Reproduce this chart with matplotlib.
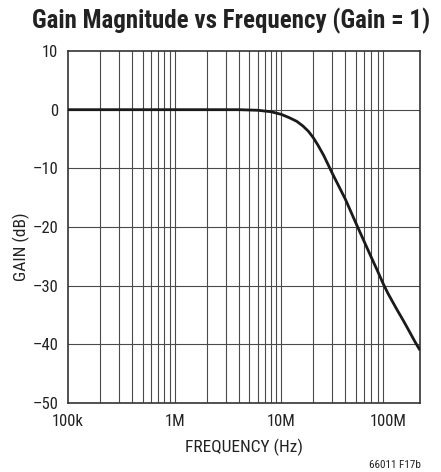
import matplotlib
matplotlib.use("Agg")
import matplotlib.pyplot as plt

# Data
freq_hz = [1e5, 1e6, 4e6, 6e6, 8e6, 1e7, 1.2e7, 1.4e7, 1.6e7, 1.8e7, 2e7, 2.2e7,
           2.5e7, 3e7, 4e7, 5e7, 6e7, 7e7, 8e7, 9e7, 1e8, 1.2e8, 1.4e8, 1.6e8,
           1.8e8, 2e8]
gain_db = [0, 0, 0, -0.1, -0.35, -0.8, -1.4, -2.0, -2.8, -3.7, -4.8, -6.0,
           -7.8, -10.8, -15.3, -19.3, -22.5, -25.2, -27.5, -29.6, -31.3, -33.9,
           -36.0, -37.9, -39.6, -41.0]
xtick_vals = [1e5, 1e6, 1e7, 1e8]
xtick_labels = ["100k", "1M", "10M", "100M"]
ytick_vals = [10, 0, -10, -20, -30, -40, -50]
ytick_labels = ["10", "0", "\u201310", "\u201320", "\u201330", "\u201340", "\u201350"]
grid_freqs = [m * 10 ** e for e in (5, 6, 7) for m in range(1, 10)][1:]
grid_gains = [0, -10, -20, -30, -40]

plt.rcParams['font.family'] = ['Roboto Condensed', 'DejaVu Sans']

fig = plt.figure(figsize=(4.41, 4.72), dpi=100)
ax = fig.add_axes([68/441, 1 - 403/472, (420-68)/441, (403-51)/472])
ax.set_xscale('log')
ax.set_xlim(1e5, 2e8)
ax.set_ylim(-50, 10)

for f in grid_freqs:
    ax.axvline(f, color='#4a4a4a', lw=0.8, zorder=1)
for g in grid_gains:
    ax.axhline(g, color='#4a4a4a', lw=0.8, zorder=1)

ax.plot(freq_hz, gain_db, color='#1a1a1a', lw=2.0, zorder=3, solid_capstyle='butt')

ax.set_xticks(xtick_vals)
ax.set_xticklabels(xtick_labels)
ax.set_xticks([], minor=True)
ax.set_yticks(ytick_vals)
ax.set_yticklabels(ytick_labels)
ax.tick_params(length=0, labelsize=12, colors='#222222')
ax.tick_params(axis='x', pad=8)
ax.tick_params(axis='y', pad=7)
for s in ax.spines.values():
    s.set_color('#333333')
    s.set_linewidth(1.2)

fig.text(244/441, 1 - 452/472, "FREQUENCY (Hz)", ha='center', va='baseline',
         fontsize=12.5, color='#222222')
fig.text(21/441, 1 - 247/472, "GAIN (dB)", ha='center', va='center',
         rotation=90, fontsize=12.5, color='#222222')
fig.text(421/441, 1 - 468/472, "66011 F17b", ha='right', va='baseline',
         fontsize=8, color='#222222')
fig.text(231/441, 1 - 28/472, "Gain Magnitude vs Frequency (Gain = 1)",
         ha='center', va='baseline', fontsize=18, fontweight='bold', color='#222222')

fig.savefig("out.png", dpi=100)
